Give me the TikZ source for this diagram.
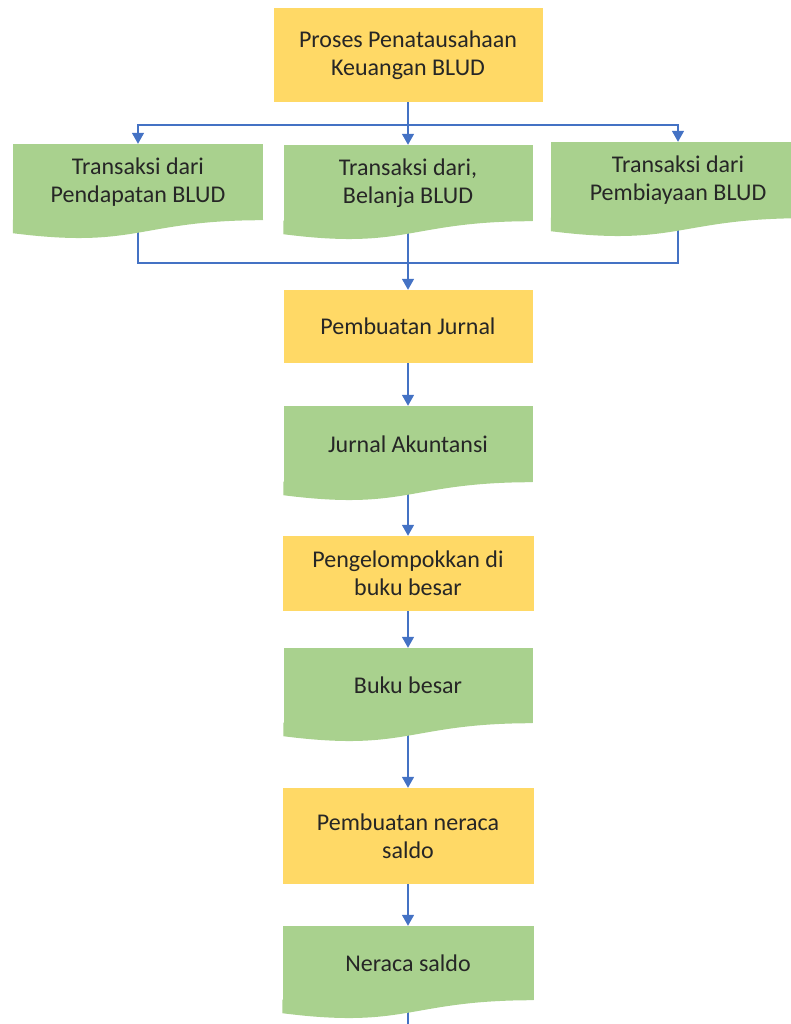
\documentclass[tikz,border=0pt]{standalone}
\usepackage{fontspec}
\setmainfont{Carlito}
\usetikzlibrary{arrows.meta,positioning,calc}
\definecolor{boxyellow}{HTML}{FFD966}
\definecolor{docgreen}{HTML}{A9D18E}
\definecolor{linkblue}{HTML}{4472C4}
\tikzset{
  procbox/.style={fill=boxyellow,minimum width=250pt,inner ysep=2pt,align=center,
    text=black!85,font=\fontsize{24}{28}\selectfont},
  docbox/.style={procbox,fill=docgreen,minimum height=76pt},
  plainlink/.style={draw=linkblue,line width=1.5pt},
  link/.style={plainlink,-{Triangle[width=12pt,length=11pt]}},
}
% wavy lower edge of a document shape, under node #1
\newcommand{\doctail}[1]{
\fill[docgreen] ($(#1.south east)+(0,0.6pt)$) -- (#1.south east)
  .. controls (#1.south) and ($(#1.south)+(0,-29pt)$) .. ($(#1.south west)+(0,-13pt)$)
  -- ($(#1.south west)+(0,0.6pt)$) -- cycle;
}
\begin{document}
\begin{tikzpicture}[x=1pt,y=-1pt]
\useasboundingbox (0,0) rectangle (791,1024);
\node [procbox,minimum width=269pt,minimum height=94pt] (proses) at (408,55)
  {Proses Penatausahaan\\Keuangan BLUD};
\node [docbox] (pend) at (138,182) {Transaksi dari\\Pendapatan BLUD};
\node [docbox,minimum width=249pt] (bel) at (408,183) {Transaksi dari,\\Belanja BLUD};
\node [docbox,minimum width=254pt] (pemb) at (678,180) {Transaksi dari\\Pembiayaan BLUD};
\node [procbox,minimum width=249pt,minimum height=73pt] (jurnalbox) at (408,326.5) {Pembuatan Jurnal};
\node [docbox,minimum width=249pt] (jurnal) at (408,444) {Jurnal Akuntansi};
\node [procbox,minimum width=251pt,minimum height=75pt] (kelompok) at (408,573.5)
  {Pengelompokkan di\\buku besar};
\node [docbox,minimum width=249pt,minimum height=75pt] (bukubesar) at (408,685.5) {Buku besar};
\node [procbox,minimum width=251pt,minimum height=96pt] (neraca) at (408,836)
  {Pembuatan neraca\\saldo};
\node [docbox,minimum width=251pt,minimum height=74pt] (nsaldo) at (408,963) {Neraca saldo};

\coordinate (split) at (408,125);
\coordinate (merge) at (408,263);
\coordinate (cutoff) at (408,1024);

\draw [plainlink] (proses) -- (split);
\draw [link] (split) -| (pend.north);
\draw [link] (split) -- (bel.north);
\draw [link] (split) -| (pemb.north);
\draw [plainlink] (pend.south) |- (merge);
\draw [plainlink] (pemb.south) |- (merge);
\draw [link] (bel.south) -- (jurnalbox);
\draw [link] (jurnalbox) -- (jurnal);
\draw [link] (jurnal.south) -- (kelompok);
\draw [link] (kelompok) -- (bukubesar);
\draw [link] (bukubesar.south) -- (neraca);
\draw [link] (neraca) -- (nsaldo);
\draw [plainlink] (nsaldo.south) -- (cutoff);

\doctail{pend}
\doctail{bel}
\doctail{pemb}
\doctail{jurnal}
\doctail{bukubesar}
\doctail{nsaldo}
\end{tikzpicture}
\end{document}
